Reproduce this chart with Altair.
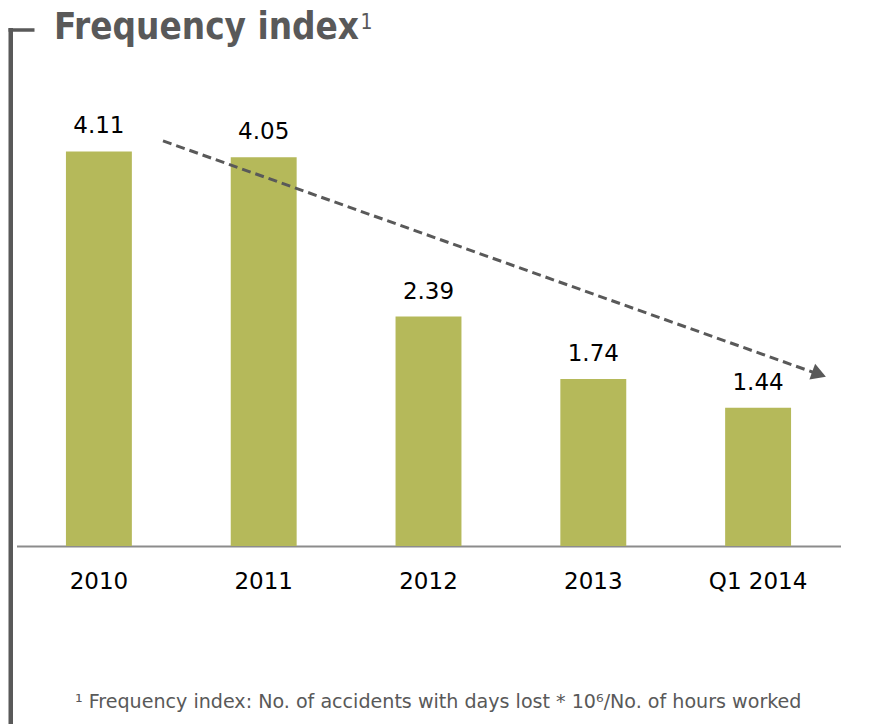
import altair as alt
import pandas as pd

categories = ["2010", "2011", "2012", "2013", "Q1 2014"]
values = [4.11, 4.05, 2.39, 1.74, 1.44]
labels = ["4.11", "4.05", "2.39", "1.74", "1.44"]

# trend arrow in category-index units (x) and value units (y)
arrow_x = [0.889, 4.833]
arrow_y = [4.22, 1.81]
head_x = [4.87]
head_y = [1.79]

title_text = "Frequency index"
title_sup = "1"
footnote = "¹ Frequency index: No. of accidents with days lost * 10⁶/No. of hours worked"

GRAY = "#595959"
BAR = "#B5B95A"
FONT_T = "DejaVu Sans Condensed"
FONT = "DejaVu Sans"

df = pd.DataFrame({"cat": categories, "val": values, "lab": labels})
arrow_df = pd.DataFrame({"ax": arrow_x, "ay": arrow_y})
head_df = pd.DataFrame({"hx": head_x, "hy": head_y})
one = alt.Data(values=[{"a": 1}])

yscale = alt.Scale(domain=[0, 5])
xband = alt.X("cat:N", sort=categories, title=None,
              scale=alt.Scale(paddingInner=0.6, paddingOuter=0.3),
              axis=alt.Axis(labelAngle=0, labelFontSize=23, labelColor="black",
                            labelFont=FONT, ticks=False, domainColor="#8c8c8c",
                            domainWidth=2, labelPadding=24, grid=False))

bars = alt.Chart(df).mark_bar(color=BAR).encode(
    x=xband,
    y=alt.Y("val:Q", scale=yscale, axis=None),
)
texts = alt.Chart(df).mark_text(fontSize=23, font=FONT, color="black",
                                baseline="alphabetic", dy=-18).encode(
    x=alt.X("cat:N", sort=categories),
    y=alt.Y("val:Q", scale=yscale),
    text="lab:N",
)
barlayer = alt.layer(bars, texts)

xq = alt.Scale(domain=[0, 5])
arrow = alt.Chart(arrow_df).mark_line(color=GRAY, strokeWidth=3, strokeDash=[9, 5]).encode(
    x=alt.X("ax:Q", scale=xq, axis=None),
    y=alt.Y("ay:Q", scale=yscale),
)
head = alt.Chart(head_df).mark_point(shape="triangle-right", filled=True, color=GRAY,
                                     size=280, angle=20, opacity=1).encode(
    x=alt.X("hx:Q", scale=xq, axis=None),
    y=alt.Y("hy:Q", scale=yscale),
)
arrowlayer = alt.layer(arrow, head)

vrule = alt.Chart(one).mark_rule(color=GRAY, strokeWidth=4.5).encode(
    x=alt.value(-5.75), y=alt.value(-38), y2=alt.value(660))
hrule = alt.Chart(one).mark_rule(color=GRAY, strokeWidth=3.5).encode(
    x=alt.value(-8), x2=alt.value(18), y=alt.value(-36))

title = alt.Chart(one).mark_text(text=title_text, fontSize=36.5, fontWeight="bold",
                                 font=FONT_T, color=GRAY, align="left",
                                 baseline="alphabetic").encode(
    x=alt.value(37.5), y=alt.value(-27))
sup = alt.Chart(one).mark_text(text=title_sup, fontSize=21, font=FONT_T, color=GRAY,
                               align="left", baseline="alphabetic").encode(
    x=alt.value(344), y=alt.value(-37))
foot = alt.Chart(one).mark_text(text=footnote, fontSize=19.1, font=FONT, color=GRAY,
                                align="left", baseline="alphabetic").encode(
    x=alt.value(58.5), y=alt.value(642))

chart = alt.layer(barlayer, arrowlayer, vrule, hrule, title, sup, foot).resolve_scale(
    x="independent"
).properties(
    width=824, height=480,
    padding={"left": 16.5, "top": 66, "right": 35.5, "bottom": 178},
    autosize=alt.AutoSizeParams(type="none"),
).configure_view(stroke=None)

chart.save("out.html", embed_options={"renderer": "svg", "actions": False})
